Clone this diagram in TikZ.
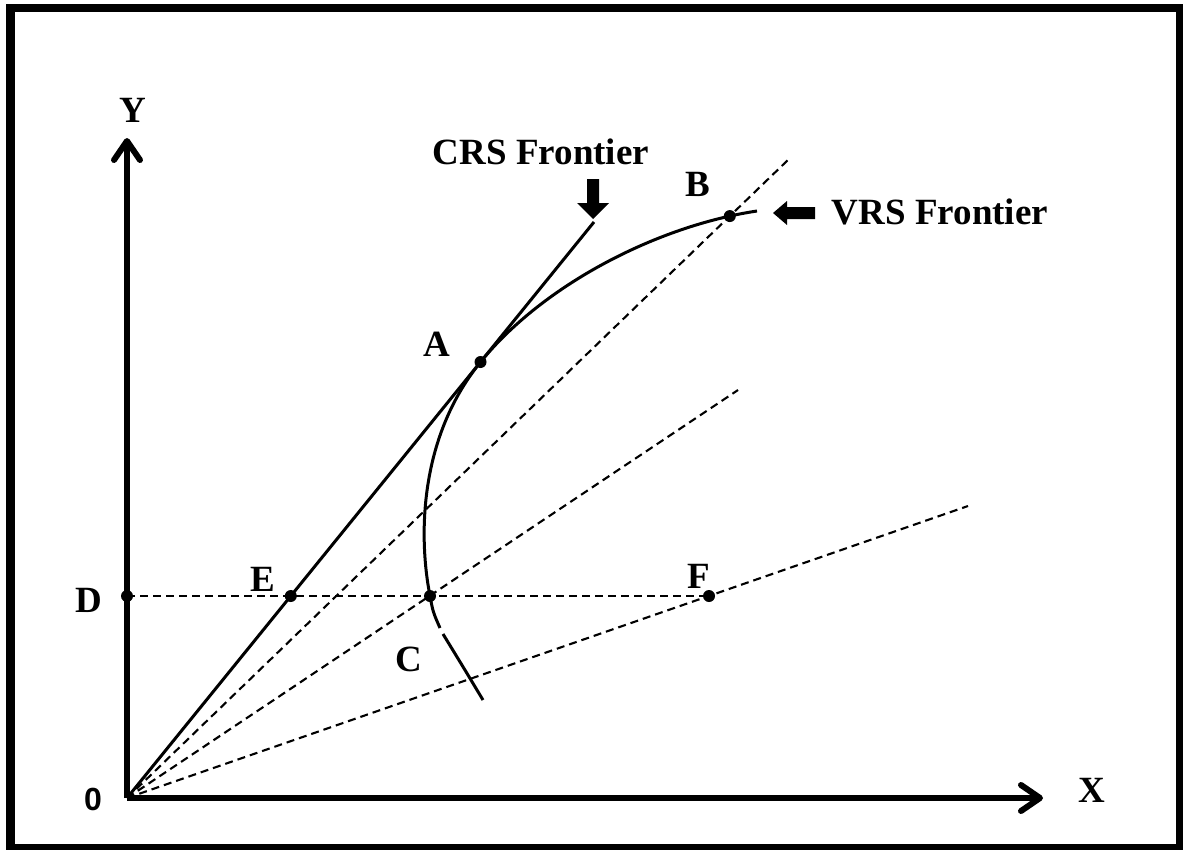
\documentclass[tikz,border=0pt]{standalone}
\usepackage{fontspec}
\setmainfont{Liberation Serif}
\newfontfamily\arialfont{Liberation Sans}
\usetikzlibrary{arrows.meta,intersections,calc}
\begin{document}
\begin{tikzpicture}[x=1pt,y=-1pt,
  lbl/.style={font=\bfseries\fontsize{37}{37}\selectfont, inner sep=0pt},
  dot/.style={circle,fill=black,inner sep=0pt,minimum size=12pt},
  dashline/.style={dash pattern=on 8pt off 5pt, line width=2.1pt},
  solidline/.style={line width=3pt},
  axisline/.style={line width=6pt, -{Straight Barb[round,length=19pt,width=26pt]}},
  blockarrow/.style={fill=black}]
\useasboundingbox (0,0) rectangle (1183,849);
\draw[line width=8.5pt] (10.5,8) rectangle (1180,848);

% key coordinates
\coordinate (O) at (127,798);
\coordinate (Ytip) at (127,138);
\coordinate (Xtip) at (1043,798);
\coordinate (T) at (594,222);
\coordinate (L1) at (790,158);
\coordinate (L2) at (738,390);
\coordinate (L3) at (968,506);
\coordinate (Dp) at (127,596);
\coordinate (Fp) at (709,596);
\coordinate (Cp) at (430,596);
\coordinate (Ap) at (intersection of O--T and 0,362--900,362);
\coordinate (Ep) at (intersection of O--T and Dp--Fp);
\coordinate (V0) at (483,700);
\coordinate (V1) at (443,634);
\coordinate (V2) at (440,628);
\coordinate (Vend) at (757,211);

% dashed rays
\draw[dashline, name path=ray1] (O) -- (L1);
\draw[dashline] (O) -- (L2);
\draw[dashline] (O) -- (L3);
\draw[dashline] (Dp) -- (Fp);

% CRS frontier
\draw[solidline] (O) -- (T);

% VRS frontier
\draw[solidline] (V0) .. controls (465,670) .. (V1);
\draw[solidline] (V2) .. controls (433,612) .. (Cp)
  .. controls (419,540) and (417.5,439.7) .. (Ap);
\draw[solidline, name path=vrsup] (Ap) .. controls (543.5,284.3) and (658,225.8) .. (Vend);
\path[name intersections={of=ray1 and vrsup, by=Bp}];

% axes
\draw[axisline] (O) -- (Ytip);
\draw[axisline] (O) -- (Xtip);

% points
\node[dot] (A) at (Ap) {};
\node[dot] (B) at (Bp) {};
\node[dot] (C) at (Cp) {};
\node[dot] (D) at (Dp) {};
\node[dot] (E) at (Ep) {};
\node[dot] (F) at (Fp) {};

% block arrows
\fill[blockarrow] (587,179) -- (599,179) -- (599,203) -- (609,203) -- (593,219) -- (577,203) -- (587,203) -- cycle;
\fill[blockarrow] (773,213) -- (787,201) -- (787,207) -- (815,207) -- (815,219) -- (787,219) -- (787,225) -- cycle;

% labels
\node[lbl] (lA) at (437,344) {A};
\node[lbl] (lB) at (698,184) {B};
\node[lbl] (lC) at (409,659) {C};
\node[lbl] (lD) at (89,600) {D};
\node[lbl] (lE) at (263,579) {E};
\node[lbl] (lF) at (699,576) {F};
\node[lbl] (lY) at (133,110) {Y};
\node[lbl] (lX) at (1092,790) {X};
\node[inner sep=0pt, font=\arialfont\bfseries\fontsize{32}{32}\selectfont] (l0) at (93,799) {0};
\node[lbl] (crs) at (541,152) {CRS Frontier};
\node[lbl] (vrs) at (940,212) {VRS Frontier};
\end{tikzpicture}
\end{document}
